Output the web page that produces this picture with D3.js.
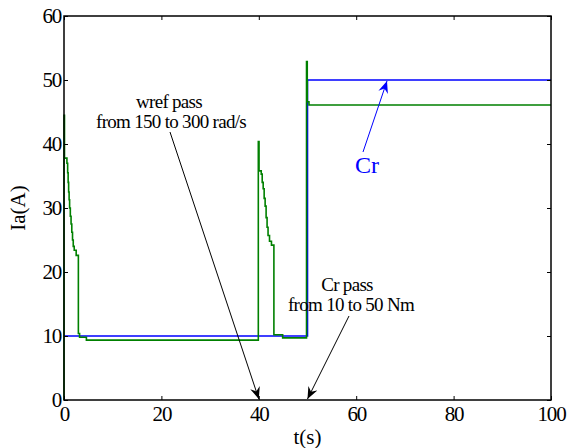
<!DOCTYPE html>
<html>
<head>
<meta charset="utf-8">
<script src="https://cdnjs.cloudflare.com/ajax/libs/d3/7.8.5/d3.min.js"></script>
<style>
  body { margin: 0; background: #fff; }
  svg { display: block; }
</style>
</head>
<body>
<svg></svg>
<script>
let width = 569;
let height = 448;
let serif = '"Liberation Serif", "Times New Roman", serif';

// reference torque Cr (blue)
let tCr = [0, 50, 100];
let iaCr = [10, 50, 50];

// stator current Ia (green)
let tIa = [0, 0, 0.1, 0.6, 0.75, 0.85, 0.95, 1.05, 1.15, 1.3, 1.45, 1.6, 1.75, 1.9, 2.1, 2.5, 2.95, 3.2, 4.6,
           39.9, 40.05, 40.5, 40.7, 40.9, 41.1, 41.3, 41.5, 41.7, 41.9, 42.2, 42.6, 43.1, 44.9,
           49.8, 49.95, 50.3, 100];
let iaIa = [0, 44.5, 37.8, 37.0, 35.5, 34, 32.5, 31.3, 30, 28.7, 27.5, 26.2, 25, 24, 23.4, 22.6, 10.4, 9.8, 9.35,
            40.4, 35.8, 35.3, 34, 33, 31.5, 30.3, 28.5, 27, 25.7, 24.8, 24.2, 10.2, 9.7,
            52.9, 46.6, 46.1, 46.1];

let xTicks = [0, 20, 40, 60, 80, 100];
let yTicks = [0, 10, 20, 30, 40, 50, 60];

let margin = {left: 64, right: 18, top: 16, bottom: 48};

let svg = d3.select('svg')
            .attr('width', width)
            .attr('height', height)
            .style('font-family', serif);

let x = d3.scaleLinear().domain([0, 100]).range([margin.left, width - margin.right]);
let y = d3.scaleLinear().domain([0, 60]).range([height - margin.bottom, margin.top]);

// arrow heads
let defs = svg.append('defs');
function arrowMarker(id, color) {
  defs.append('marker')
      .attr('id', id)
      .attr('viewBox', '0 0 12 10')
      .attr('refX', 12)
      .attr('refY', 5)
      .attr('markerWidth', 12)
      .attr('markerHeight', 10)
      .attr('markerUnits', 'userSpaceOnUse')
      .attr('orient', 'auto')
      .append('path')
      .attr('d', 'M0,0 L12,5 L0,10 L4,5 Z')
      .attr('fill', color);
}
arrowMarker('arrBlack', '#000');
arrowMarker('arrBlue', '#0000ff');

// lines
let line = d3.line()
             .x(d => x(d[0]))
             .y(d => y(d[1]))
             .curve(d3.curveStepAfter);

svg.append('path')
   .datum(tCr.map((t, i) => [t, iaCr[i]]))
   .attr('d', line)
   .attr('fill', 'none')
   .attr('stroke', '#0000ff')
   .attr('stroke-width', 1.6);

svg.append('path')
   .datum(tIa.map((t, i) => [t, iaIa[i]]))
   .attr('d', line)
   .attr('fill', 'none')
   .attr('stroke', '#008000')
   .attr('stroke-width', 1.6);

// frame
svg.append('rect')
   .attr('x', x(0))
   .attr('y', y(60))
   .attr('width', x(100) - x(0))
   .attr('height', y(0) - y(60))
   .attr('fill', 'none')
   .attr('stroke', '#000')
   .attr('stroke-width', 1.5);

// axes with inside ticks
let xAxis = svg.append('g')
   .attr('transform', 'translate(0,' + y(0) + ')')
   .call(d3.axisBottom(x).tickValues(xTicks).tickSize(-4).tickPadding(6).tickFormat(d3.format('d')));
let xAxisTop = svg.append('g')
   .attr('transform', 'translate(0,' + y(60) + ')')
   .call(d3.axisTop(x).tickValues(xTicks).tickSize(-4).tickFormat(''));
let yAxis = svg.append('g')
   .attr('transform', 'translate(' + x(0) + ',0)')
   .call(d3.axisLeft(y).tickValues(yTicks).tickSize(-4).tickPadding(3).tickFormat(d3.format('d')));
let yAxisRight = svg.append('g')
   .attr('transform', 'translate(' + x(100) + ',0)')
   .call(d3.axisRight(y).tickValues(yTicks).tickSize(-4).tickFormat(''));

[xAxis, xAxisTop, yAxis, yAxisRight].forEach(g => {
  g.attr('font-family', null);
  g.select('.domain').remove();
  g.selectAll('.tick line').attr('stroke', '#000').attr('stroke-width', 1);
  g.selectAll('text')
   .style('font-family', serif)
   .style('font-size', '21px')
   .style('letter-spacing', '-1.2px')
   .attr('fill', '#000');
});

// axis labels
svg.append('text')
   .attr('x', x(50))
   .attr('y', 444)
   .attr('text-anchor', 'middle')
   .style('font-family', serif)
   .style('font-size', '21px')
   .text('t(s)');

svg.append('text')
   .attr('transform', 'translate(25,' + y(30) + ') rotate(-90)')
   .attr('text-anchor', 'middle')
   .style('font-family', serif)
   .style('font-size', '21px')
   .text('Ia(A)');

// annotations
let notes = [
  {x: 169, y: 108, s: 'wref pass'},
  {x: 171, y: 128, s: 'from 150 to 300 rad/s'},
  {x: 347, y: 291, s: 'Cr pass'},
  {x: 351, y: 311, s: 'from 10 to 50 Nm'}
];
svg.selectAll('.note')
   .data(notes)
   .enter()
   .append('text')
   .attr('class', 'note')
   .attr('x', d => d.x)
   .attr('y', d => d.y)
   .attr('text-anchor', 'middle')
   .style('font-family', serif)
   .style('font-size', '19px')
   .style('letter-spacing', '-0.7px')
   .text(d => d.s);

svg.append('line')
   .attr('x1', 170).attr('y1', 132)
   .attr('x2', x(40)).attr('y2', y(0) - 1)
   .attr('stroke', '#000').attr('stroke-width', 1)
   .attr('marker-end', 'url(#arrBlack)');

svg.append('line')
   .attr('x1', 349).attr('y1', 316)
   .attr('x2', x(50)).attr('y2', y(0) - 1)
   .attr('stroke', '#000').attr('stroke-width', 1)
   .attr('marker-end', 'url(#arrBlack)');

svg.append('line')
   .attr('x1', 363).attr('y1', 152)
   .attr('x2', 387).attr('y2', y(50) + 1)
   .attr('stroke', '#0000ff').attr('stroke-width', 1)
   .attr('marker-end', 'url(#arrBlue)');

svg.append('text')
   .attr('x', 367)
   .attr('y', 173)
   .attr('text-anchor', 'middle')
   .style('font-family', serif)
   .style('font-size', '24px')
   .attr('fill', '#0000ff')
   .text('Cr');
</script>
</body>
</html>
